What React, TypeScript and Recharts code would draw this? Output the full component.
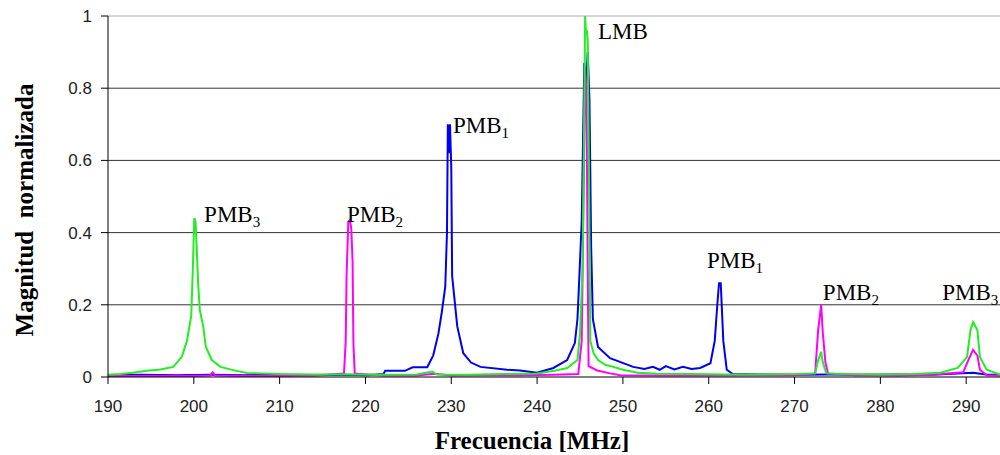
import { Label, Line, LineChart, ReferenceDot, ReferenceLine, XAxis, YAxis } from 'recharts';

// frequency [MHz] / normalized magnitude
const greenFreq = [
	190.0, 191.5, 192.9, 194.5, 196.1, 197.6, 198.6, 199.2, 199.7, 199.9, 200.05, 200.2, 200.35, 200.5,
	200.7, 201.1, 201.4, 202.1, 203.1, 204.6, 206.2, 208.0, 210.0, 214.0, 218.0, 222.0, 226.0, 227.8,
	228.3, 232.0, 236.0, 240.0, 242.0, 243.5, 244.7, 245.0, 245.3, 245.5, 245.6, 245.7, 245.8, 245.9,
	246.05, 246.2, 246.6, 247.1, 248.0, 248.9, 250.0, 251.7, 254.0, 258.0, 262.0, 266.0, 270.0, 272.4,
	272.75, 273.1, 273.3, 273.7, 276.0, 280.0, 284.0, 287.0, 289.0, 290.1, 290.5, 290.8, 291.3, 291.6,
	292.4, 294.0, 297.0, 300.0,
];
const greenMag = [
	0.006, 0.008, 0.012, 0.017, 0.021, 0.028, 0.056, 0.1, 0.17, 0.31, 0.44, 0.43, 0.35, 0.26,
	0.185, 0.14, 0.083, 0.047, 0.028, 0.019, 0.011, 0.01, 0.008, 0.007, 0.007, 0.006, 0.007, 0.015,
	0.007, 0.006, 0.008, 0.01, 0.017, 0.025, 0.047, 0.12, 0.3, 0.75, 1.0, 0.95, 0.96, 0.93,
	0.55, 0.1, 0.065, 0.047, 0.033, 0.028, 0.02, 0.012, 0.009, 0.008, 0.007, 0.007, 0.008, 0.01,
	0.047, 0.07, 0.04, 0.01, 0.008, 0.007, 0.008, 0.012, 0.025, 0.055, 0.13, 0.152, 0.13, 0.055,
	0.02, 0.006, 0.006, 0.006,
];

const magentaFreq = [
	190.0, 195.0, 200.0, 201.9, 202.2, 202.5, 206.0, 210.0, 214.0, 217.5, 217.7, 217.8, 218.0, 218.2,
	218.35, 218.5, 218.6, 218.75, 222.0, 226.0, 228.0, 230.0, 234.0, 238.0, 242.0, 244.8, 245.2, 245.35,
	245.6, 245.75, 245.9, 246.0, 247.0, 248.5, 249.7, 254.0, 258.0, 262.0, 266.0, 270.0, 272.4, 272.75,
	273.1, 273.3, 273.6, 273.9, 277.0, 282.0, 286.0, 289.65, 290.35, 290.8, 291.3, 291.6, 292.4, 296.0,
	300.0,
];
const magentaMag = [
	0.003, 0.003, 0.003, 0.004, 0.013, 0.004, 0.003, 0.003, 0.004, 0.01, 0.1, 0.28, 0.43, 0.435,
	0.41, 0.32, 0.09, 0.01, 0.004, 0.004, 0.009, 0.004, 0.005, 0.005, 0.006, 0.008, 0.1, 0.38,
	0.85, 0.8, 0.3, 0.03, 0.018, 0.01, 0.005, 0.004, 0.004, 0.004, 0.005, 0.005, 0.01, 0.13,
	0.2, 0.12, 0.04, 0.01, 0.005, 0.004, 0.006, 0.013, 0.052, 0.075, 0.06, 0.02, 0.005, 0.003,
	0.003,
];

const blueFreq = [
	190.0, 194.0, 198.0, 202.0, 206.0, 210.0, 214.0, 218.0, 220.2, 222.1, 222.3, 224.6, 225.5, 227.2,
	227.9, 228.5, 228.9, 229.3, 229.5, 229.6, 229.7, 229.85, 230.0, 230.1, 230.7, 231.4, 232.3, 233.4,
	236.5, 238.0, 240.0, 241.9, 243.5, 244.4, 244.7, 244.8, 245.2, 245.5, 245.7, 245.9, 246.1, 246.3,
	246.5, 247.1, 248.5, 251.2, 252.5, 253.5, 254.3, 255.0, 256.0, 257.0, 258.0, 259.0, 260.2, 260.7,
	261.0, 261.2, 261.4, 261.7, 262.1, 262.8, 266.0, 270.0, 274.0, 278.0, 282.0, 286.0, 290.8, 292.5,
	296.0, 300.0,
];
const blueMag = [
	0.005, 0.006, 0.005, 0.006, 0.005, 0.006, 0.005, 0.006, 0.005, 0.008, 0.017, 0.017, 0.027, 0.027,
	0.06, 0.12, 0.18, 0.25, 0.4, 0.7, 0.62, 0.7, 0.58, 0.28, 0.14, 0.066, 0.04, 0.028,
	0.02, 0.018, 0.012, 0.025, 0.047, 0.094, 0.16, 0.21, 0.43, 0.87, 0.8, 0.9, 0.77, 0.36,
	0.16, 0.083, 0.052, 0.028, 0.022, 0.028, 0.02, 0.03, 0.021, 0.028, 0.022, 0.025, 0.038, 0.1,
	0.2, 0.26, 0.26, 0.1, 0.02, 0.008, 0.007, 0.006, 0.007, 0.006, 0.007, 0.006, 0.012, 0.006,
	0.006, 0.006,
];

const X_TICKS = [190, 200, 210, 220, 230, 240, 250, 260, 270, 280, 290];
const Y_TICKS = [0, 0.2, 0.4, 0.6, 0.8, 1];
const GRID_VALUES = [0.2, 0.4, 0.6, 0.8];

// peak labels: text, subscript, anchor (freq, magnitude) of the text's left baseline
const peakNames = ['PMB', 'PMB', 'PMB', 'LMB', 'PMB', 'PMB', 'PMB'];
const peakSubs = ['3', '2', '1', '', '1', '2', '3'];
const peakFreq = [201.2, 217.85, 230.2, 247.1, 259.8, 273.3, 287.2];
const peakMag = [0.429, 0.429, 0.676, 0.936, 0.302, 0.213, 0.213];

const toPoints = (f: number[], v: number[]) => f.map((x, i) => ({ f: x, v: v[i] }));

const blueData = toPoints(blueFreq, blueMag);
const magentaData = toPoints(magentaFreq, magentaMag);
const greenData = toPoints(greenFreq, greenMag);

const tickStyle = { fontSize: 17, fill: '#222', fontFamily: 'Liberation Sans, Arial, sans-serif' };
const titleFont = 'Liberation Serif, Times New Roman, serif';

const PeakLabel = (name: string, sub: string) => (props: any) => {
	const vb = props.viewBox || {};
	const x = vb.x + (vb.width || 0) / 2;
	const y = vb.y + (vb.height || 0) / 2;
	return (
		<text x={x} y={y} fontFamily={titleFont} fontSize={23} fill='#000'>
			{name}
			{sub && (
				<tspan dy={5} fontSize={15}>
					{sub}
				</tspan>
			)}
		</text>
	);
};

const App = () => {
	return (
		<div
			style={{
				position: 'absolute',
				left: 0,
				top: 0,
				width: 1000,
				height: 455,
				overflow: 'hidden',
				background: '#fff',
			}}
		>
			<LineChart width={1060} height={455} margin={{ top: 16, right: 8, bottom: 0, left: 0 }}>
				{GRID_VALUES.map((g) => (
					<ReferenceLine key={g} y={g} stroke='#333' strokeWidth={1} />
				))}
				<ReferenceLine y={1} stroke='#aaa' strokeWidth={1} />
				<XAxis
					type='number'
					dataKey='f'
					domain={[190, 300]}
					ticks={X_TICKS}
					allowDataOverflow
					height={78}
					tickSize={7}
					tickMargin={16}
					tick={tickStyle}
					stroke='#000'
					interval={0}
				>
					<Label
						content={(props: any) => {
							const vb = props.viewBox;
							return (
								<text
									x={vb.x + 424}
									y={vb.y + 72}
									textAnchor='middle'
									fontFamily={titleFont}
									fontWeight='bold'
									fontSize={25}
									fill='#000'
								>
									Frecuencia [MHz]
								</text>
							);
						}}
					/>
				</XAxis>
				<YAxis
					type='number'
					domain={[0, 1]}
					ticks={Y_TICKS}
					width={108}
					tickSize={7}
					tickMargin={9}
					tick={tickStyle}
					stroke='#000'
					interval={0}
				>
					<Label
						content={() => (
							<text
								x={24}
								y={210}
								transform='rotate(-90, 24, 210)'
								textAnchor='middle'
								dominantBaseline='central'
								fontFamily={titleFont}
								fontWeight='bold'
								fontSize={25}
								fill='#000'
								style={{ whiteSpace: 'pre' }}
							>
								Magnitud  normalizada
							</text>
						)}
					/>
				</YAxis>
				<Line
					data={blueData}
					dataKey='v'
					type='linear'
					stroke='#0000ee'
					strokeWidth={2}
					dot={false}
					isAnimationActive={false}
				/>
				<Line
					data={magentaData}
					dataKey='v'
					type='linear'
					stroke='#ff00ff'
					strokeWidth={2}
					dot={false}
					isAnimationActive={false}
				/>
				<Line
					data={greenData}
					dataKey='v'
					type='linear'
					stroke='#22ee22'
					strokeWidth={2}
					dot={false}
					isAnimationActive={false}
				/>
				{peakFreq.map((f, i) => (
					<ReferenceDot
						key={i}
						x={f}
						y={peakMag[i]}
						r={1}
						fill='none'
						stroke='none'
						label={{ content: PeakLabel(peakNames[i], peakSubs[i]) }}
					/>
				))}
			</LineChart>
		</div>
	);
};

export default App;
